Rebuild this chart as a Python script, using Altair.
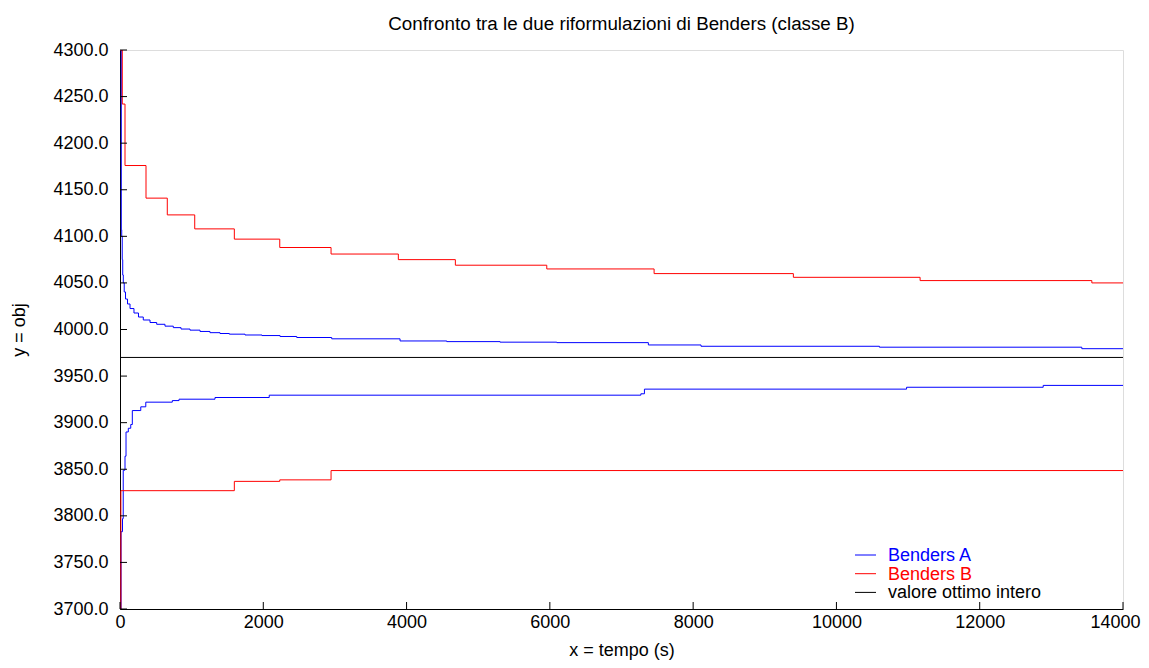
import altair as alt
import pandas as pd

FONT = "Liberation Sans"
FS = 18

# ---- data (time in s, objective value) ----
# Benders A - upper bound
a_up_t = [0, 18, 24, 31, 38, 46, 59, 77, 105, 140, 195, 258, 325, 419, 512, 628, 744,
          852, 977, 1117, 1256, 1396, 1526, 1745, 1982, 2234, 2467, 2955, 3909, 4561,
          5305, 6097, 7375, 8110, 10600, 13425, 14000]
a_up_v = [4300, 4107, 4100, 4075, 4058.5, 4050, 4040.3, 4032.7, 4027.4, 4022.5, 4017.7,
          4013.4, 4010.2, 4007.5, 4005.6, 4003.6, 4002, 4000.5, 3999.3, 3997.9, 3996.6,
          3995.7, 3995, 3994.1, 3993.5, 3992.5, 3991.4, 3990, 3987.7, 3987, 3986.4,
          3985.9, 3983.4, 3982, 3981, 3979.4, 3979.4]
# Benders A - lower bound
a_lo_t = [0, 15, 35, 45, 70, 84, 116, 150, 172, 290, 360, 730, 824, 1326, 2083, 7270,
          7320, 10979, 12886, 14000]
a_lo_v = [3700, 3783, 3797, 3849, 3864, 3890, 3894, 3898, 3913, 3917, 3922, 3923.7,
          3925.2, 3927, 3929.5, 3931, 3936, 3938, 3940, 3940]
# Benders B - upper bound
b_up_t = [0, 32, 70, 363, 660, 1043, 1596, 2230, 2946, 3885, 4681, 5957, 7455, 9399,
          11168, 13565, 14000]
b_up_v = [4300, 4242, 4176, 4141, 4123, 4108, 4097, 4088, 4081, 4075, 4069, 4065, 4060,
          4056, 4052.5, 4050, 4050]
# Benders B - lower bound
b_lo_t = [0, 12, 1596, 2230, 2946, 14000]
b_lo_v = [3700, 3827, 3837, 3838.6, 3848.6, 3848.6]
# optimal integer value
opt_t = [0, 14000]
opt_v = [3970, 3970]

series_names = ["Benders A", "Benders B", "valore ottimo intero"]
series_colors = ["#0000ff", "#ff0000", "#000000"]

x_ticks = [0, 2000, 4000, 6000, 8000, 10000, 12000, 14000]
y_ticks = [3700, 3750, 3800, 3850, 3900, 3950, 4000, 4050, 4100, 4150, 4200, 4250, 4300]

rows = []
for name, bound, ts, vs in [
    ("Benders A", "up", a_up_t, a_up_v),
    ("Benders A", "lo", a_lo_t, a_lo_v),
    ("Benders B", "up", b_up_t, b_up_v),
    ("Benders B", "lo", b_lo_t, b_lo_v),
    ("valore ottimo intero", "opt", opt_t, opt_v),
]:
    for t, v in zip(ts, vs):
        rows.append({"series": name, "line": name + bound, "t": t, "v": v})
df = pd.DataFrame(rows)

W, H = 1003, 559

xscale = alt.Scale(domain=[0, 14000], nice=False, zero=False)
yscale = alt.Scale(domain=[3700, 4300], nice=False, zero=False)

xaxis = alt.Axis(values=x_ticks, format="d", tickSize=0, grid=False, labelFont=FONT,
                 labelFontSize=FS, labelColor="black", labelPadding=4, labelFlush=False,
                 labelOffset={"condition": {"test": "datum.value == 14000", "value": -8},
                              "value": 0},
                 domainColor="black", domainWidth=1, title="x = tempo (s)",
                 titleFont=FONT, titleFontSize=FS, titleFontWeight="normal",
                 titleColor="black", titlePadding=10)
yaxis = alt.Axis(values=y_ticks, format=".1f", tickSize=0, grid=False, labelFont=FONT,
                 labelFontSize=FS, labelColor="black", labelPadding=12, labelFlush=False,
                 domainColor="black", domainWidth=1, title="y = obj",
                 titleFont=FONT, titleFontSize=FS, titleFontWeight="normal",
                 titleColor="black", titlePadding=24)

lines = alt.Chart(df).mark_line(interpolate="step-after", strokeWidth=1, clip=True).encode(
    x=alt.X("t:Q", scale=xscale, axis=xaxis),
    y=alt.Y("v:Q", scale=yscale, axis=yaxis),
    color=alt.Color("series:N", scale=alt.Scale(domain=series_names, range=series_colors),
                    legend=None),
    detail="line:N",
)

yt = alt.Chart(pd.DataFrame({"v": y_ticks})).mark_rule(color="black", strokeWidth=1).encode(
    y=alt.Y("v:Q", scale=yscale), x=alt.value(0), x2=alt.value(7))
xt = alt.Chart(pd.DataFrame({"t": x_ticks})).mark_rule(color="black", strokeWidth=1).encode(
    x=alt.X("t:Q", scale=xscale), y=alt.value(H), y2=alt.value(H - 7))

layers = [lines, yt, xt]
for i, (name, col) in enumerate(zip(series_names, series_colors)):
    yy = 505 + i * 18.7
    src = pd.DataFrame({"label": [name]})
    layers.append(alt.Chart(src).mark_rule(color=col, strokeWidth=1).encode(
        x=alt.value(735), x2=alt.value(756), y=alt.value(yy)))
    layers.append(alt.Chart(src).mark_text(align="left", baseline="middle", font=FONT,
                                           fontSize=FS, color=col).encode(
        x=alt.value(768), y=alt.value(yy + 1), text="label:N"))

chart = alt.layer(*layers).properties(
    width=W, height=H,
    title=alt.TitleParams("Confronto tra le due riformulazioni di Benders (classe B)",
                          font=FONT, fontSize=18.8, fontWeight="normal", color="black",
                          anchor="middle", offset=7),
    autosize=alt.AutoSizeParams(type="none"),
    padding={"left": 112, "top": 42, "right": 18, "bottom": 51},
).configure_view(stroke=None).configure(background="white")

chart.save("out.html", embed_options={"renderer": "svg", "actions": False})
